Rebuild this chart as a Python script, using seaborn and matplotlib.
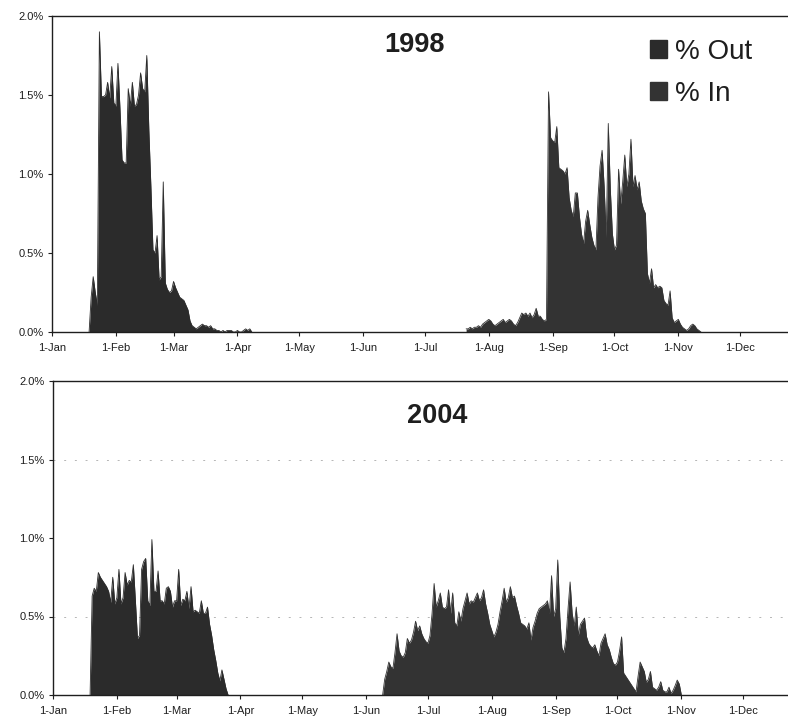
import matplotlib
matplotlib.use("Agg")
import matplotlib.pyplot as plt
from matplotlib.patches import Patch
from matplotlib.ticker import FuncFormatter
import pandas as pd
import seaborn as sns

sns.set_theme(style="white")
plt.rcParams["font.family"] = ["Liberation Sans", "DejaVu Sans"]

# Daily shares of the yearly total (%), each season starting on the given date
out_1998_start = "1998-01-19"
out_1998 = [0.00, 0.22, 0.35, 0.25, 0.17, 1.90, 1.49, 1.49, 1.50, 1.58,
            1.48, 1.68, 1.45, 1.43, 1.70, 1.41, 1.09, 1.07, 1.07, 1.54,
            1.43, 1.58, 1.43, 1.44, 1.50, 1.64, 1.54, 1.52, 1.75, 1.28,
            0.92, 0.52, 0.50, 0.61, 0.33, 0.35, 0.95, 0.31, 0.27, 0.25,
            0.26, 0.32, 0.28, 0.25, 0.22, 0.21, 0.20, 0.17, 0.14, 0.07,
            0.04, 0.03, 0.02, 0.03, 0.04, 0.05, 0.04, 0.04, 0.03, 0.04,
            0.02, 0.02, 0.01, 0.01, 0.00, 0.01, 0.00, 0.01, 0.01, 0.01,
            0.00, 0.00, 0.01, 0.00, 0.00, 0.01, 0.02, 0.01, 0.02, 0.00]

in_1998_start = "1998-07-21"
in_1998 = [0.02, 0.02, 0.03, 0.02, 0.03, 0.03, 0.04, 0.03, 0.05, 0.06,
           0.07, 0.08, 0.07, 0.05, 0.04, 0.05, 0.06, 0.07, 0.08, 0.06,
           0.07, 0.08, 0.07, 0.05, 0.04, 0.06, 0.09, 0.12, 0.11, 0.12,
           0.10, 0.12, 0.09, 0.11, 0.15, 0.10, 0.10, 0.08, 0.07, 0.08,
           1.52, 1.23, 1.21, 1.20, 1.30, 1.04, 1.03, 1.02, 1.00, 1.04,
           0.85, 0.77, 0.73, 0.88, 0.88, 0.73, 0.62, 0.56, 0.70, 0.77,
           0.68, 0.60, 0.55, 0.52, 0.85, 1.05, 1.15, 0.92, 0.60, 1.32,
           0.90, 0.62, 0.52, 0.55, 1.03, 0.81, 0.95, 1.12, 0.92, 1.00,
           1.22, 0.92, 0.99, 0.90, 0.95, 0.83, 0.78, 0.75, 0.37, 0.31,
           0.40, 0.28, 0.30, 0.28, 0.29, 0.28, 0.20, 0.18, 0.17, 0.26,
           0.09, 0.06, 0.07, 0.08, 0.05, 0.03, 0.02, 0.01, 0.02, 0.04,
           0.05, 0.04, 0.02, 0.01, 0.00]

out_2004_start = "2004-01-19"
out_2004 = [0.00, 0.63, 0.68, 0.66, 0.78, 0.75, 0.73, 0.71, 0.69, 0.66,
            0.59, 0.75, 0.58, 0.62, 0.80, 0.58, 0.62, 0.78, 0.70, 0.73,
            0.72, 0.83, 0.60, 0.36, 0.38, 0.80, 0.85, 0.87, 0.60, 0.57,
            0.99, 0.66, 0.66, 0.79, 0.60, 0.60, 0.58, 0.68, 0.69, 0.66,
            0.56, 0.60, 0.60, 0.80, 0.57, 0.61, 0.60, 0.66, 0.55, 0.69,
            0.53, 0.54, 0.53, 0.52, 0.60, 0.52, 0.52, 0.56, 0.45, 0.38,
            0.29, 0.22, 0.14, 0.09, 0.16, 0.10, 0.04, 0.00]

in_2004_start = "2004-06-09"
in_2004 = [0.00, 0.10, 0.15, 0.21, 0.18, 0.17, 0.27, 0.39, 0.28, 0.25,
           0.24, 0.27, 0.36, 0.33, 0.35, 0.40, 0.47, 0.41, 0.44, 0.39,
           0.36, 0.34, 0.33, 0.38, 0.52, 0.71, 0.56, 0.60, 0.65, 0.56,
           0.55, 0.56, 0.67, 0.52, 0.65, 0.46, 0.44, 0.53, 0.47, 0.55,
           0.60, 0.65, 0.58, 0.60, 0.59, 0.62, 0.65, 0.60, 0.62, 0.67,
           0.58, 0.52, 0.45, 0.41, 0.37, 0.40, 0.45, 0.53, 0.60, 0.68,
           0.59, 0.62, 0.69, 0.62, 0.63, 0.57, 0.52, 0.46, 0.45, 0.44,
           0.42, 0.46, 0.35, 0.43, 0.47, 0.52, 0.55, 0.56, 0.57, 0.58,
           0.60, 0.52, 0.76, 0.50, 0.55, 0.86, 0.50, 0.30, 0.27, 0.36,
           0.55, 0.72, 0.52, 0.44, 0.56, 0.38, 0.45, 0.47, 0.49, 0.37,
           0.33, 0.31, 0.30, 0.32, 0.28, 0.25, 0.33, 0.36, 0.39, 0.32,
           0.29, 0.24, 0.20, 0.19, 0.21, 0.28, 0.37, 0.14, 0.12, 0.10,
           0.08, 0.06, 0.04, 0.02, 0.12, 0.21, 0.18, 0.15, 0.08, 0.10,
           0.15, 0.05, 0.04, 0.03, 0.05, 0.085, 0.03, 0.02, 0.02, 0.05,
           0.01, 0.03, 0.06, 0.095, 0.07, 0.00]

series_labels = ["% Out", "% In"]
series_colors = ["#2b2b2b", "#333333"]
y_ticks = [0.0, 0.5, 1.0, 1.5, 2.0]
month_labels = ["1-Jan", "1-Feb", "1-Mar", "1-Apr", "1-May", "1-Jun",
                "1-Jul", "1-Aug", "1-Sep", "1-Oct", "1-Nov", "1-Dec"]


def season(start, values):
    return pd.DataFrame({"date": pd.date_range(start, periods=len(values), freq="D"),
                         "share": values})


def draw_year(ax, year, seasons):
    for (start, values), color in zip(seasons, series_colors):
        df = season(start, values)
        ax.fill_between(df["date"], 0, df["share"], color=color, lw=0, zorder=2)
        sns.lineplot(data=df, x="date", y="share", ax=ax, color=color, lw=0.6, zorder=3)
    ax.set_xlim(pd.Timestamp(f"{year}-01-01"), pd.Timestamp(f"{year + 1}-01-01"))
    ax.set_ylim(0, 2.0)
    ax.set_yticks(y_ticks)
    ax.yaxis.set_major_formatter(FuncFormatter(lambda v, p: f"{v:.1f}%"))
    month_starts = pd.date_range(f"{year}-01-01", periods=12, freq="MS")
    ax.set_xticks(month_starts)
    ax.set_xticklabels(month_labels)
    ax.set_xlabel("")
    ax.set_ylabel("")
    for side in ["left", "bottom", "top", "right"]:
        ax.spines[side].set_color("#1e1e1e")
        ax.spines[side].set_linewidth(1.0)
    ax.tick_params(axis="both", direction="out", length=3, width=0.8,
                   colors="#1e1e1e", labelsize=8, pad=3, bottom=True, left=True)
    ax.tick_params(axis="x", pad=5)
    ax.grid(False)


fig = plt.figure(figsize=(7.88, 7.18), dpi=100)
ax_top = fig.add_axes([52 / 788, 1 - 332 / 718, 752 / 788, 316 / 718])
ax_bot = fig.add_axes([53 / 788, 1 - 695 / 718, 754 / 788, 314 / 718])

draw_year(ax_top, 1998, [(out_1998_start, out_1998), (in_1998_start, in_1998)])
draw_year(ax_bot, 2004, [(out_2004_start, out_2004), (in_2004_start, in_2004)])

# faint dotted guides in the lower panel
for level in (0.5, 1.5):
    ax_bot.axhline(level, color="#b5b5b5", lw=0.7, ls=(0, (2, 9)), zorder=1)

fig.text(415 / 788, 1 - 45 / 718, "1998", ha="center", va="center",
         fontsize=19.5, fontweight="bold", color="#1e1e1e")
fig.text(437 / 788, 1 - 416 / 718, "2004", ha="center", va="center",
         fontsize=19.5, fontweight="bold", color="#1e1e1e")

handles = [Patch(facecolor=c, edgecolor=c) for c in series_colors]
fig.legend(handles, series_labels, loc="upper left",
           bbox_to_anchor=(636 / 788, 1 - 25 / 718), frameon=False,
           fontsize=20, handlelength=0.62, handleheight=0.62,
           handletextpad=0.3, labelspacing=0.58, borderpad=0.0,
           labelcolor="#1e1e1e")

fig.savefig("out.png", dpi=100, facecolor="white")
